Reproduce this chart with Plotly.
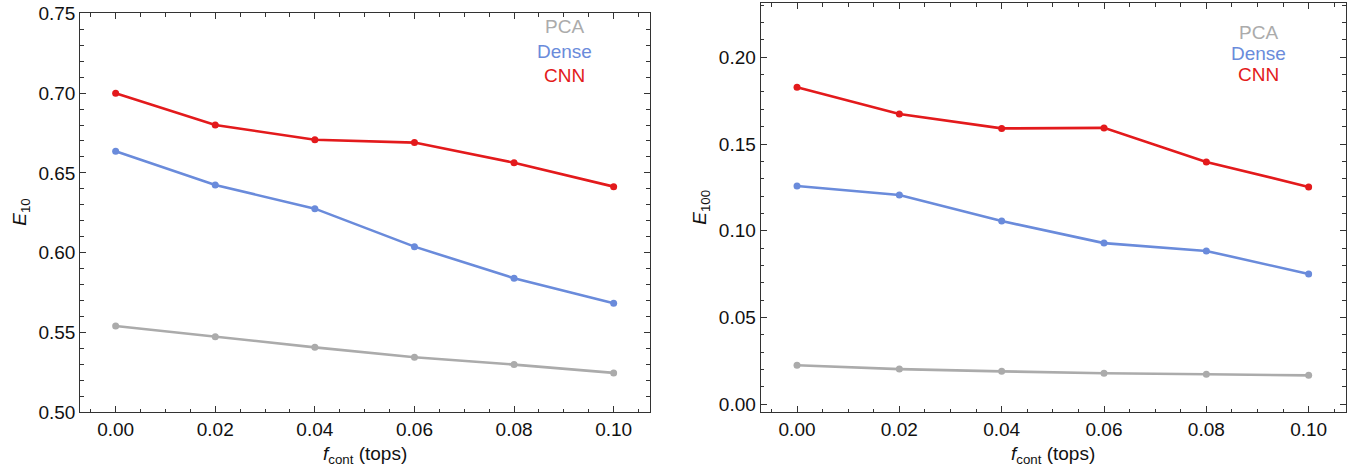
import plotly.graph_objects as go

f_cont = [0.00, 0.02, 0.04, 0.06, 0.08, 0.10]

# Left panel: E_10
e10_pca = [0.5541, 0.5474, 0.5407, 0.5345, 0.5299, 0.5247]
e10_dense = [0.6635, 0.6424, 0.6276, 0.6038, 0.5840, 0.5683]
e10_cnn = [0.6999, 0.6800, 0.6708, 0.6690, 0.6564, 0.6414]

# Right panel: E_100
e100_pca = [0.0225, 0.0203, 0.0190, 0.0179, 0.0173, 0.0167]
e100_dense = [0.1258, 0.1206, 0.1056, 0.0929, 0.0884, 0.0751]
e100_cnn = [0.1827, 0.1673, 0.1590, 0.1593, 0.1397, 0.1253]

series_names = ["PCA", "Dense", "CNN"]
colors = {"PCA": "#ABABAB", "Dense": "#6A8BDB", "CNN": "#E31A1C"}

x_ticks = [0.00, 0.02, 0.04, 0.06, 0.08, 0.10]
x_ticklabels = ["0.00", "0.02", "0.04", "0.06", "0.08", "0.10"]
y1_ticks = [0.50, 0.55, 0.60, 0.65, 0.70, 0.75]
y1_ticklabels = ["0.50", "0.55", "0.60", "0.65", "0.70", "0.75"]
y2_ticks = [0.00, 0.05, 0.10, 0.15, 0.20]
y2_ticklabels = ["0.00", "0.05", "0.10", "0.15", "0.20"]

W, H = 1367, 472
FONT = "Liberation Sans, Arial, Helvetica, sans-serif"
FRAME = "#333333"
TXT = "#111111"

fig = go.Figure()

left = {"PCA": e10_pca, "Dense": e10_dense, "CNN": e10_cnn}
right = {"PCA": e100_pca, "Dense": e100_dense, "CNN": e100_cnn}

for name in series_names:
    fig.add_trace(go.Scatter(x=f_cont, y=left[name], mode="lines+markers",
                             line=dict(color=colors[name], width=2.6),
                             marker=dict(color=colors[name], size=7),
                             xaxis="x", yaxis="y", showlegend=False, name=name))
    fig.add_trace(go.Scatter(x=f_cont, y=right[name], mode="lines+markers",
                             line=dict(color=colors[name], width=2.6),
                             marker=dict(color=colors[name], size=7),
                             xaxis="x2", yaxis="y2", showlegend=False, name=name))

def px_x(p):
    return p / W

def px_y(p):
    return 1 - p / H

common_axis = dict(
    showgrid=False, zeroline=False, showline=True, linecolor=FRAME, linewidth=1.2,
    mirror="ticks", ticks="inside", ticklen=6, tickwidth=1, tickcolor=FRAME,
    tickfont=dict(family=FONT, size=19, color=TXT),
    automargin=False,
)

xrange_ = [-0.0071, 0.1073]

fig.update_layout(
    width=W, height=H,
    margin=dict(l=0, r=0, t=0, b=0),
    paper_bgcolor="white", plot_bgcolor="white",
    xaxis=dict(**common_axis, domain=[px_x(80.3), px_x(650)], range=xrange_,
               tickvals=x_ticks, ticktext=x_ticklabels, anchor="y",
               minor=dict(dtick=0.005, tick0=0, ticks="inside", ticklen=3.5, tickcolor=FRAME)),
    yaxis=dict(**common_axis, domain=[px_y(412.3), px_y(13.3)], range=[0.5, 0.75],
               tickvals=y1_ticks, ticktext=y1_ticklabels, anchor="x",
               minor=dict(dtick=0.01, tick0=0, ticks="inside", ticklen=3.5, tickcolor=FRAME)),
    xaxis2=dict(**common_axis, domain=[px_x(760.7), px_x(1346)], range=xrange_,
                tickvals=x_ticks, ticktext=x_ticklabels, anchor="y2",
                minor=dict(dtick=0.005, tick0=0, ticks="inside", ticklen=3.5, tickcolor=FRAME)),
    yaxis2=dict(**common_axis, domain=[px_y(412.3), px_y(3.3)], range=[-0.0046, 0.2311],
                tickvals=y2_ticks, ticktext=y2_ticklabels, anchor="x2",
                minor=dict(dtick=0.01, tick0=0, ticks="inside", ticklen=3.5, tickcolor=FRAME)),
)

annotations = []

def ann(x, y, text, color=TXT, angle=0):
    annotations.append(dict(x=px_x(x), y=px_y(y), xref="paper", yref="paper",
                            xanchor="center", yanchor="middle",
                            text=text, showarrow=False, textangle=angle,
                            font=dict(family=FONT, size=19, color=color)))

# axis titles
ann(365, 455, "<i>f</i><sub>cont</sub> (tops)")
ann(1053, 455, "<i>f</i><sub>cont</sub> (tops)")
ann(21, 212.8, "<i>E</i><sub>10</sub>", angle=-90)
ann(701, 207.8, "<i>E</i><sub>100</sub>", angle=-90)

# legends as coloured text
left_leg_y = [27, 51, 75]
right_leg_y = [32, 53, 74]
for name, yy in zip(series_names, left_leg_y):
    ann(564, yy, name, color=colors[name])
for name, yy in zip(series_names, right_leg_y):
    ann(1258, yy, name, color=colors[name])

fig.update_layout(annotations=annotations)

fig.write_html("out.html",
               config={"displayModeBar": False},
               post_script="document.body.style.margin='0';document.body.style.overflow='hidden';")
